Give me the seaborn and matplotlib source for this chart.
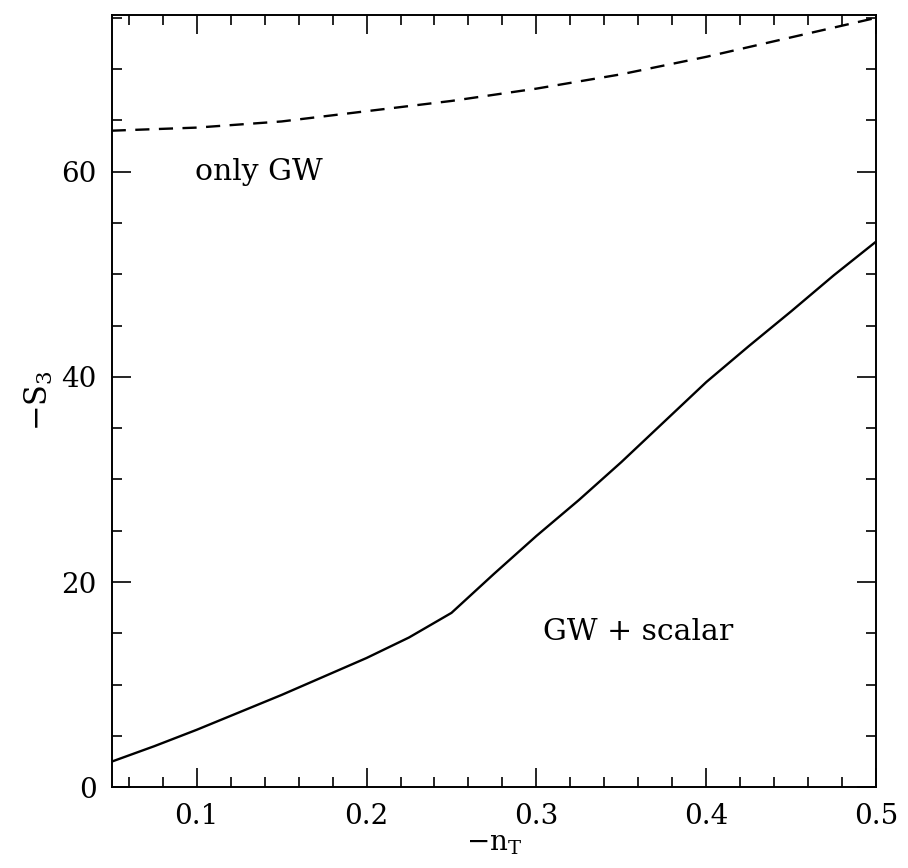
import numpy as np
import pandas as pd
import matplotlib
matplotlib.use("Agg")
import matplotlib.pyplot as plt
import seaborn as sns
from matplotlib.ticker import MultipleLocator

# values
nt_gw = [0.05, 0.10, 0.15, 0.20, 0.25, 0.30, 0.35, 0.40, 0.45, 0.50]
s3_gw = [64.0, 64.3, 64.9, 65.9, 66.9, 68.1, 69.5, 71.2, 73.1, 75.0]

nt_mix = [0.05, 0.075, 0.10, 0.125, 0.15, 0.175, 0.20, 0.225, 0.25,
          0.275, 0.30, 0.325, 0.35, 0.375, 0.40, 0.425, 0.45, 0.475, 0.50]
s3_mix = [2.5, 4.0, 5.6, 7.3, 9.0, 10.8, 12.6, 14.6, 17.0,
          20.8, 24.5, 28.0, 31.7, 35.6, 39.5, 43.0, 46.4, 49.9, 53.2]

df_gw = pd.DataFrame({'nt': nt_gw, 's3': s3_gw})
df_mix = pd.DataFrame({'nt': nt_mix, 's3': s3_mix})

sns.set_style("ticks")
plt.rcParams['font.family'] = ['DejaVu Serif']
plt.rcParams['mathtext.fontset'] = 'dejavuserif'
plt.rcParams['text.color'] = 'black'
plt.rcParams['axes.labelcolor'] = 'black'
plt.rcParams['xtick.color'] = 'black'
plt.rcParams['ytick.color'] = 'black'

fig = plt.figure(figsize=(9.08, 8.68), dpi=100)
ax = fig.add_axes([0.123, 0.093, 0.842, 0.890])

sns.lineplot(x='nt', y='s3', data=df_gw, ax=ax, color='black',
             linestyle=(0, (6, 4)), linewidth=1.7)
sns.lineplot(x='nt', y='s3', data=df_mix, ax=ax, color='black',
             linewidth=1.7)

ax.text(0.099, 60, 'only GW', fontsize=21.5, va='center', ha='left')
ax.text(0.304, 15.1, 'GW + scalar', fontsize=21.5, va='center', ha='left')

ax.set_xlim(0.05, 0.5)
ax.set_ylim(0, 75.3)
ax.xaxis.set_major_locator(MultipleLocator(0.1))
ax.xaxis.set_minor_locator(MultipleLocator(0.02))
ax.yaxis.set_major_locator(MultipleLocator(20))
ax.yaxis.set_minor_locator(MultipleLocator(5))
ax.set_xticks([0.1, 0.2, 0.3, 0.4, 0.5])
ax.set_xticklabels(['0.1', '0.2', '0.3', '0.4', '0.5'])
ax.set_yticks([0, 20, 40, 60])

ax.tick_params(which='both', direction='in', top=True, right=True,
               labelsize=20, width=1.2)
ax.tick_params(which='major', length=14, pad=11)
ax.tick_params(which='minor', length=7)
for sp in ax.spines.values():
    sp.set_linewidth(1.4)
    sp.set_color('black')

ax.set_xlabel(r'$-\mathrm{n_T}$', fontsize=20, labelpad=0)
ax.set_ylabel(r'$-\mathrm{S_3}$', fontsize=22, labelpad=4)

fig.savefig('out.png', dpi=100)
